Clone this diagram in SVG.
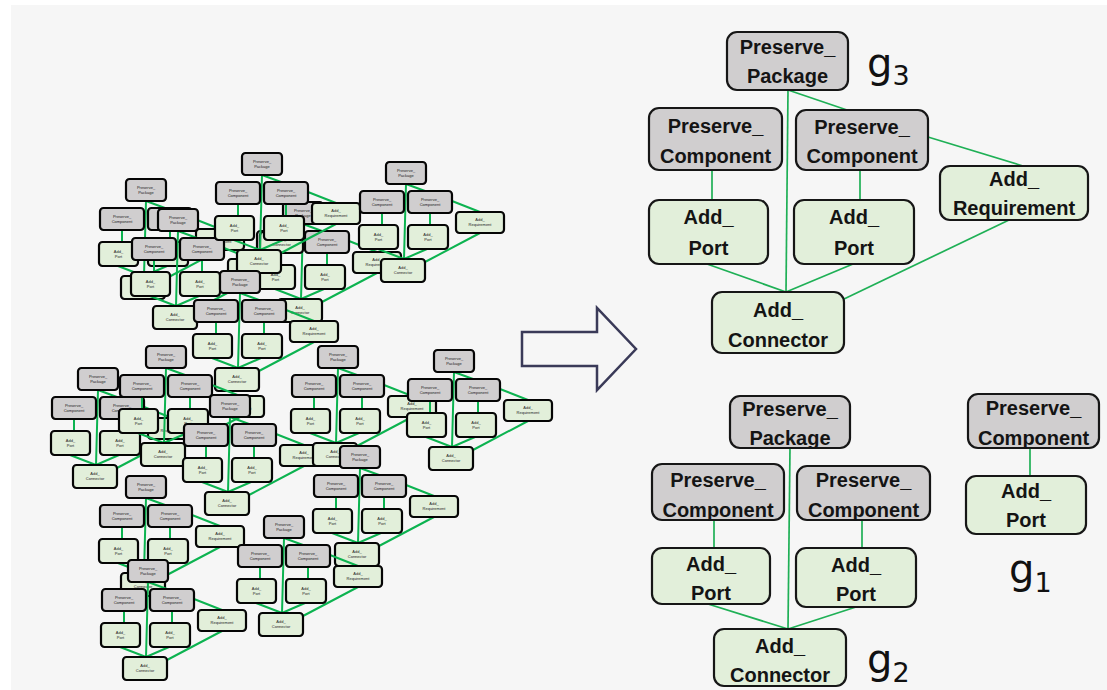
<svg xmlns="http://www.w3.org/2000/svg" xmlns:xlink="http://www.w3.org/1999/xlink" width="1107" height="690" viewBox="0 0 1107 690">
  <style>
    .gray { fill: #d0cecf; stroke: #161616; stroke-width: 2.2; }
    .green { fill: #e2efda; stroke: #161616; stroke-width: 2.2; }
    .lbl { font-family: "Liberation Sans", Arial, sans-serif; font-weight: bold; font-size: 20px; fill: #141414; text-anchor: middle; }
    .mgray { fill: #d0cecf; stroke: #050505; stroke-width: 2.2; }
    .mgreen { fill: #e2efda; stroke: #050505; stroke-width: 2.2; }
    .mlbl { font-family: "Liberation Sans", Arial, sans-serif; font-size: 4px; fill: #222; text-anchor: middle; }
    .edge { stroke: #1fb056; stroke-width: 1.7; fill: none; }
    .medge { stroke: #0cb350; stroke-width: 2; fill: none; }
    .glabel { font-family: "DejaVu Sans", sans-serif; font-size: 40px; fill: #111; }
  </style>
  <defs>
    <!-- small copy of the three-level pattern, origin = top-left of the package box -->
    <g id="mini-g3">
      <path class="medge" d="M20,22 L18,97 M20,22 L39,29 M66,39 L94,50 M-4,51 L-4,63 M44,51 L44,63 M-8,87 L18,97 M41,87 L18,97 M94,71 L39,100"/>
      <rect class="mgray" x="0" y="0" width="40" height="22" rx="3.5"/>
      <text class="mlbl" x="20" y="9.5">Preserve_<tspan x="20" dy="5">Package</tspan></text>
      <rect class="mgray" x="-26" y="29" width="44" height="22" rx="3.5"/>
      <text class="mlbl" x="-4" y="38.5">Preserve_<tspan x="-4" dy="5">Component</tspan></text>
      <rect class="mgray" x="22" y="29" width="44" height="22" rx="3.5"/>
      <text class="mlbl" x="44" y="38.5">Preserve_<tspan x="44" dy="5">Component</tspan></text>
      <rect class="mgreen" x="70" y="50" width="48" height="21" rx="3.5"/>
      <text class="mlbl" x="94" y="59">Add_<tspan x="94" dy="5">Requirement</tspan></text>
      <rect class="mgreen" x="-27" y="63" width="39" height="24" rx="3.5"/>
      <text class="mlbl" x="-7.5" y="73.5">Add_<tspan x="-7.5" dy="5">Port</tspan></text>
      <rect class="mgreen" x="22" y="63" width="40" height="24" rx="3.5"/>
      <text class="mlbl" x="42" y="73.5">Add_<tspan x="42" dy="5">Port</tspan></text>
      <rect class="mgreen" x="-5" y="97" width="44" height="23" rx="3.5"/>
      <text class="mlbl" x="17" y="107">Add_<tspan x="17" dy="5">Connector</tspan></text>
    </g>
  </defs>

  <!-- page -->
  <rect x="0" y="0" width="1107" height="690" fill="#ffffff"/>
  <rect x="11" y="5" width="1096" height="685" fill="#f6f6f6"/>

  <!-- left: many overlapping small graphs -->
  <g id="input-graphs">
    <use id="mini-01" xlink:href="#mini-g3" transform="translate(126,179)"/>
    <use id="mini-02" xlink:href="#mini-g3" transform="translate(158,209)"/>
    <use id="mini-03" xlink:href="#mini-g3" transform="translate(283,202)"/>
    <g id="mini-03-conn">
      <rect class="mgreen" x="260" y="232" width="43" height="21" rx="3.5"/>
      <text class="mlbl" x="281.5" y="241">Add_<tspan x="281.5" dy="5">Connector</tspan></text>
    </g>
    <use id="mini-04" xlink:href="#mini-g3" transform="translate(242,153)"/>
    <use id="mini-05" xlink:href="#mini-g3" transform="translate(220,271)"/>
    <use id="mini-06" xlink:href="#mini-g3" transform="translate(386,162)"/>
    <use id="mini-07" xlink:href="#mini-g3" transform="translate(78,368)"/>
    <use id="mini-08" xlink:href="#mini-g3" transform="translate(146,346)"/>
    <use id="mini-09" xlink:href="#mini-g3" transform="translate(210,395)"/>
    <use id="mini-10" xlink:href="#mini-g3" transform="translate(318,346)"/>
    <use id="mini-11" xlink:href="#mini-g3" transform="translate(434,350)"/>
    <use id="mini-12" xlink:href="#mini-g3" transform="translate(126,476)"/>
    <use id="mini-13" xlink:href="#mini-g3" transform="translate(340,446)"/>
    <use id="mini-14" xlink:href="#mini-g3" transform="translate(128,560)"/>
    <use id="mini-15" xlink:href="#mini-g3" transform="translate(264,516)"/>
  </g>

  <!-- hollow block arrow -->
  <g id="arrow">
    <polygon points="522,332 597,332 597,308 636,349 597,390 597,366 522,366" fill="none" stroke="#3a3a58" stroke-width="2.5" stroke-linejoin="miter"/>
  </g>

  <!-- connectors of the result graphs -->
  <g id="connectors">
    <!-- g3 -->
    <path class="edge" d="M788,90 L786,292"/>
    <path class="edge" d="M788,90 L847,110"/>
    <path class="edge" d="M928,137 L1023,166"/>
    <path class="edge" d="M712,170 L712,200"/>
    <path class="edge" d="M860,170 L860,200"/>
    <path class="edge" d="M707,264 L786,292"/>
    <path class="edge" d="M853,264 L786,292"/>
    <path class="edge" d="M1009,220 L844,299"/>
    <!-- g2 -->
    <path class="edge" d="M790,448 L788,629"/>
    <path class="edge" d="M714,520 L714,548"/>
    <path class="edge" d="M862,520 L862,548"/>
    <path class="edge" d="M708,604 L788,629"/>
    <path class="edge" d="M856,607 L788,629"/>
    <!-- g1 -->
    <path class="edge" d="M1030,448 L1030,476"/>
  </g>

  <!-- g3 -->
  <g id="g3-package">
    <rect class="gray" x="727" y="32" width="121" height="58" rx="10"/>
    <text class="lbl" x="787.5" y="54">Preserve_<tspan x="787.5" y="83">Package</tspan></text>
  </g>
  <g id="g3-component-left">
    <rect class="gray" x="649" y="108" width="133" height="62" rx="10"/>
    <text class="lbl" x="715.5" y="133">Preserve_<tspan x="715.5" y="163">Component</tspan></text>
  </g>
  <g id="g3-component-right">
    <rect class="gray" x="796" y="110" width="132" height="60" rx="10"/>
    <text class="lbl" x="862" y="134">Preserve_<tspan x="862" y="163">Component</tspan></text>
  </g>
  <g id="g3-requirement">
    <rect class="green" x="940" y="166" width="148" height="54" rx="10"/>
    <text class="lbl" x="1014" y="186">Add_<tspan x="1014" y="215">Requirement</tspan></text>
  </g>
  <g id="g3-port-left">
    <rect class="green" x="649" y="200" width="119" height="64" rx="10"/>
    <text class="lbl" x="708.5" y="224">Add_<tspan x="708.5" y="255">Port</tspan></text>
  </g>
  <g id="g3-port-right">
    <rect class="green" x="794" y="200" width="120" height="64" rx="10"/>
    <text class="lbl" x="854" y="224">Add_<tspan x="854" y="255">Port</tspan></text>
  </g>
  <g id="g3-connector">
    <rect class="green" x="712" y="292" width="132" height="61" rx="10"/>
    <text class="lbl" x="778" y="317">Add_<tspan x="778" y="347">Connector</tspan></text>
  </g>
  <text id="label-g3" class="glabel" x="867" y="77">g<tspan font-size="27" dy="8">3</tspan></text>

  <!-- g2 -->
  <g id="g2-package">
    <rect class="gray" x="730" y="396" width="120" height="52" rx="10"/>
    <text class="lbl" x="790" y="416">Preserve_<tspan x="790" y="445">Package</tspan></text>
  </g>
  <g id="g2-component-left">
    <rect class="gray" x="652" y="464" width="132" height="56" rx="10"/>
    <text class="lbl" x="718" y="487">Preserve_<tspan x="718" y="517">Component</tspan></text>
  </g>
  <g id="g2-component-right">
    <rect class="gray" x="797" y="466" width="133" height="54" rx="10"/>
    <text class="lbl" x="863.5" y="487">Preserve_<tspan x="863.5" y="517">Component</tspan></text>
  </g>
  <g id="g2-port-left">
    <rect class="green" x="652" y="548" width="118" height="56" rx="10"/>
    <text class="lbl" x="711" y="571">Add_<tspan x="711" y="600">Port</tspan></text>
  </g>
  <g id="g2-port-right">
    <rect class="green" x="796" y="548" width="120" height="59" rx="10"/>
    <text class="lbl" x="856" y="572">Add_<tspan x="856" y="601">Port</tspan></text>
  </g>
  <g id="g2-connector">
    <rect class="green" x="714" y="629" width="132" height="57" rx="10"/>
    <text class="lbl" x="780" y="653">Add_<tspan x="780" y="682">Connector</tspan></text>
  </g>
  <text id="label-g2" class="glabel" x="867" y="673">g<tspan font-size="27" dy="9">2</tspan></text>

  <!-- g1 -->
  <g id="g1-component">
    <rect class="gray" x="968" y="394" width="131" height="54" rx="10"/>
    <text class="lbl" x="1033.5" y="415">Preserve_<tspan x="1033.5" y="445">Component</tspan></text>
  </g>
  <g id="g1-port">
    <rect class="green" x="966" y="476" width="120" height="58" rx="10"/>
    <text class="lbl" x="1026" y="498">Add_<tspan x="1026" y="527">Port</tspan></text>
  </g>
  <text id="label-g1" class="glabel" x="1009" y="583">g<tspan font-size="27" dy="9">1</tspan></text>
</svg>
